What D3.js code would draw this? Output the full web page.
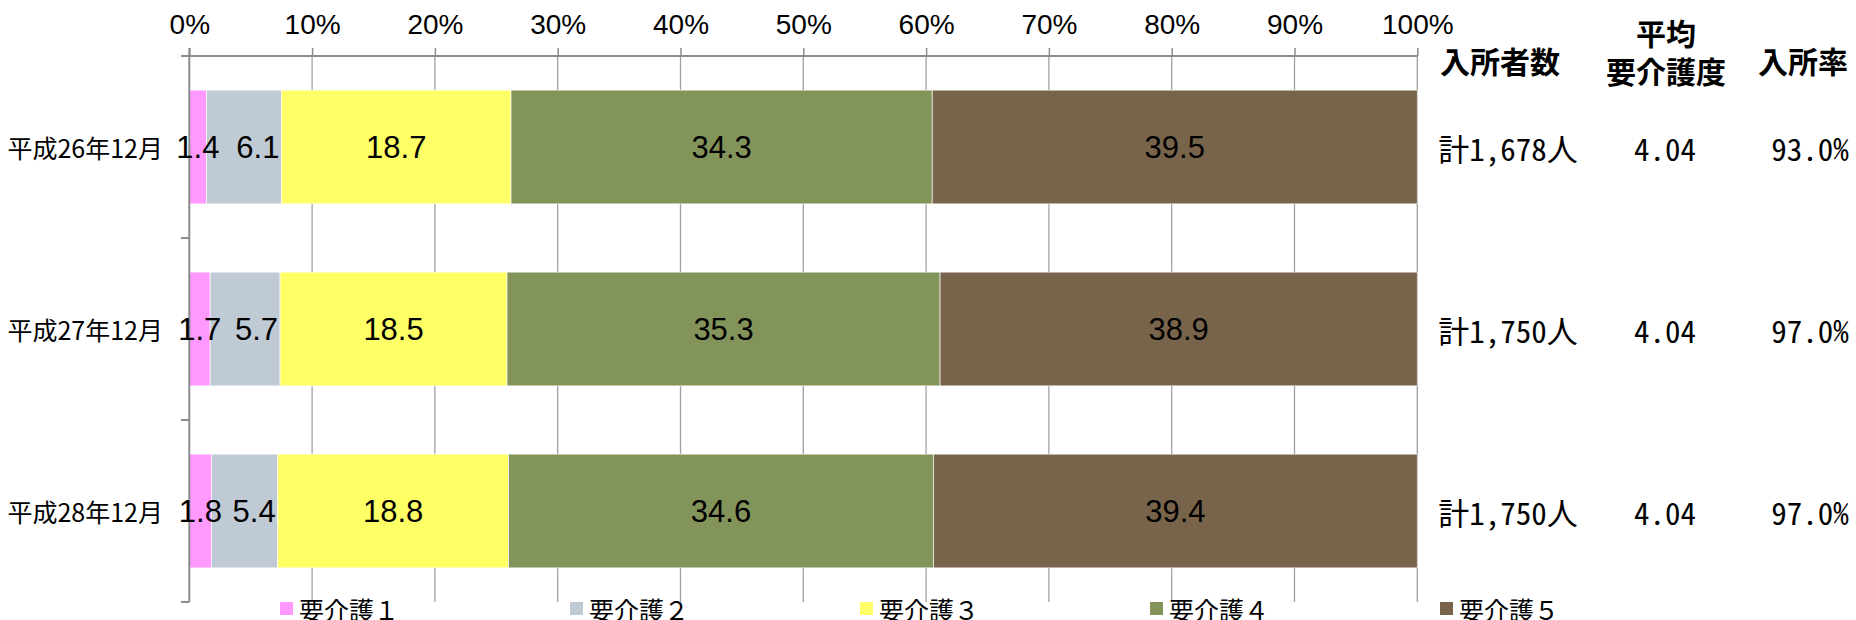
<!DOCTYPE html>
<html><head><meta charset="utf-8">
<script src="https://cdn.jsdelivr.net/npm/d3@7"></script>
<style>body{margin:0;background:#fff} svg{display:block}</style>
</head><body><svg id="c" width="1856" height="620"></svg>
<script>
// ---- data ----
const categories = ["平成26年12月", "平成27年12月", "平成28年12月"];
const seriesNames = ["要介護１", "要介護２", "要介護３", "要介護４", "要介護５"];
const care1 = [1.4, 1.7, 1.8];
const care2 = [6.1, 5.7, 5.4];
const care3 = [18.7, 18.5, 18.8];
const care4 = [34.3, 35.3, 34.6];
const care5 = [39.5, 38.9, 39.4];
const tickValues = [0, 0.1, 0.2, 0.3, 0.4, 0.5, 0.6, 0.7, 0.8, 0.9, 1.0];
const residents = ["計1,678人", "計1,750人", "計1,750人"];
const avgCareLevel = ["4.04", "4.04", "4.04"];
const occupancy = ["93.0%", "97.0%", "97.0%"];
const colors = ["#ff99ff", "#bfcad4", "#ffff66", "#83945a", "#77644a"];

// ---- build table ----
const seriesArrays = [care1, care2, care3, care4, care5];
const rows = categories.map((c, i) => {
  const r = {cat: c};
  seriesNames.forEach((s, j) => r[s] = seriesArrays[j][i]);
  return r;
});
const stacked = d3.stack().keys(seriesNames).offset(d3.stackOffsetExpand)(rows);

const svg = d3.select("#c");
const x = d3.scaleLinear().domain([0, 1]).range([189.3, 1417.3]);
const y = d3.scaleBand().domain(categories).range([56, 602]).paddingInner(0.375).paddingOuter(0.1875);

const gridColor = "#a0a0a0", axisColor = "#8c8c8c";

// gridlines
svg.append("g").selectAll("line").data(tickValues.slice(1)).join("line")
  .attr("x1", d => x(d)).attr("x2", d => x(d))
  .attr("y1", 56).attr("y2", 602)
  .attr("stroke", gridColor).attr("stroke-width", 1.3);

// top axis
const xAxis = svg.append("g").attr("transform", "translate(0,56)")
  .call(d3.axisTop(x).tickValues(tickValues).tickFormat(d3.format(".0%")).tickSize(8).tickSizeOuter(0));
xAxis.attr("font-size", null).attr("font-family", null);
xAxis.select(".domain").attr("stroke", axisColor).attr("stroke-width", 2)
  .attr("d", `M181,0H${x(1)}`);
xAxis.selectAll(".tick line").attr("stroke", axisColor).attr("stroke-width", 1.5);
xAxis.selectAll(".tick text").attr("fill", "#000")
  .attr("font-family", "'Liberation Sans', Arial, sans-serif").attr("font-size", 28)
  .attr("y", -22);

// bars
const layer = svg.append("g").selectAll("g").data(stacked).join("g")
  .attr("fill", (d, i) => colors[i]);
layer.selectAll("rect").data(d => d).join("rect")
  .attr("x", d => x(d[0])).attr("width", d => x(d[1]) - x(d[0]))
  .attr("y", d => y(d.data.cat)).attr("height", y.bandwidth())
  .attr("stroke", "#ffffff").attr("stroke-width", 0.8).attr("stroke-opacity", 0.8);

// y axis
const yl = svg.append("g");
yl.append("line").attr("x1", x(0)).attr("x2", x(0)).attr("y1", 48).attr("y2", 602)
  .attr("stroke", axisColor).attr("stroke-width", 2);
const bounds = d3.range(categories.length + 1).map(i => y.range()[0] + i * y.step());
yl.selectAll("line.tk").data(bounds.slice(1)).join("line").attr("class", "tk")
  .attr("x1", 181).attr("x2", x(0)).attr("y1", d => d).attr("y2", d => d)
  .attr("stroke", axisColor).attr("stroke-width", 2);
yl.selectAll("text").data(categories).join("text")
  .attr("x", 163).attr("y", d => y(d) + y.bandwidth() / 2)
  .attr("text-anchor", "end").attr("dominant-baseline", "central")
  .style("font-family", "'Noto Sans CJK JP', sans-serif").style("font-size", "25px")
  .text(d => d);

// data labels (2nd series labels sit at the right end of their segment)
const lbl = svg.append("g");
stacked.forEach((s, j) => {
  lbl.selectAll(null).data(s).join("text")
    .attr("x", d => j === 1 ? x(d[1]) - 2 : (x(d[0]) + x(d[1])) / 2)
    .attr("y", d => y(d.data.cat) + y.bandwidth() / 2)
    .attr("text-anchor", j === 1 ? "end" : "middle").attr("dominant-baseline", "central")
    .style("font-family", "'Liberation Sans', Arial, sans-serif").style("font-size", "31px")
    .text(d => d3.format(".1f")(d.data[s.key]));
});

// right-hand table
const tbl = svg.append("g").style("font-family", "'Noto Sans CJK JP', sans-serif");
const hdr = (t, cx, cy) => tbl.append("text").attr("x", cx).attr("y", cy)
  .attr("text-anchor", "middle").attr("dominant-baseline", "central")
  .style("font-size", "30px").style("font-weight", "bold").text(t);
hdr("入所者数", 1500, 60);
hdr("平均", 1666, 32);
hdr("要介護度", 1666, 70);
hdr("入所率", 1803, 60);
const cols = [[residents, 1508], [avgCareLevel, 1665], [occupancy, 1810]];
cols.forEach(([arr, cx]) => {
  tbl.selectAll(null).data(arr).join("text")
    .attr("x", cx).attr("y", (d, i) => y(categories[i]) + y.bandwidth() / 2)
    .attr("text-anchor", "middle").attr("dominant-baseline", "central")
    .style("font-size", "31px").style("font-feature-settings", "'hwid' 1")
    .text(d => d);
});

// legend
const leg = svg.append("g").selectAll("g").data(seriesNames).join("g")
  .attr("transform", (d, i) => `translate(${280 + i * 290},0)`);
leg.append("rect").attr("x", 0).attr("y", 602).attr("width", 13).attr("height", 13)
  .attr("fill", (d, i) => colors[i]);
leg.append("text").attr("x", 19).attr("y", 620)
  .style("font-family", "'Noto Sans CJK JP', sans-serif").style("font-size", "25px")
  .text(d => d);
</script>
</body></html>
